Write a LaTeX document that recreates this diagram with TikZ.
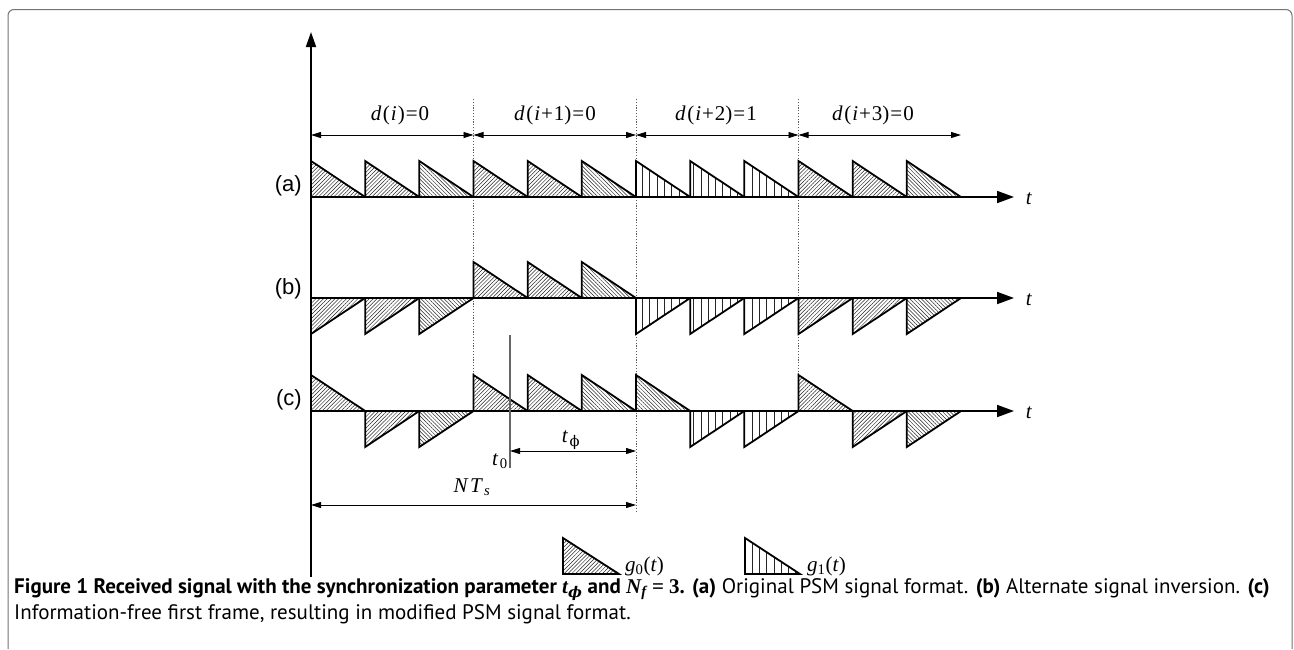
\documentclass[tikz,border=0pt]{standalone}
\usepackage{fontspec}
\setmainfont{Liberation Serif}
\newfontfamily\capfont{PT Sans}
\newfontfamily\rowfont{Liberation Sans}
\newfontfamily\grk{DejaVu Serif}
\usetikzlibrary{arrows.meta,patterns.meta}

% italic symbol in the Times-like face
\newcommand{\vi}[1]{\textit{#1}}

\begin{document}
\begin{tikzpicture}[x=1pt,y=-1pt,
  axis/.style={line width=1.8pt,-{Triangle[length=17pt,width=12pt]}},
  vaxis/.style={line width=1.8pt,-{Triangle[length=15pt,width=10pt]}},
  dim/.style={line width=0.9pt,{Triangle[length=10pt,width=6pt]}-{Triangle[length=10pt,width=6pt]}},
  guide/.style={black!65,line width=0.9pt,dash pattern=on 1.1pt off 1.7pt},
  pulse/.style={line width=1.8pt,line join=miter},
  hatchA/.style={pattern={Lines[angle=45,distance=2.7pt,line width=0.5pt]},pattern color=black!85},
  hatchB/.style={pattern={Lines[angle=-45,distance=2.7pt,line width=0.5pt]},pattern color=black!85},
  hatchG/.style={pattern={Lines[angle=90,distance=7.3pt,line width=0.6pt]},pattern color=black!85},
  lbl/.style={font=\fontsize{21}{25}\selectfont,inner sep=0pt},
  rowlbl/.style={font=\rowfont\fontsize{22}{26}\selectfont,inner sep=0pt,anchor=east},
  capline/.style={font=\capfont\fontsize{21}{25}\selectfont,inner sep=0pt,anchor=base west}]

\useasboundingbox (0,0) rectangle (1294,649);

% panel frame, open at the bottom
\draw[black!55,line width=1pt,rounded corners=6pt] (8,649) -- (8,9.5) -- (1292,9.5) -- (1292,649);

% frame boundaries
\coordinate (g1t) at (473.5,99);  \coordinate (g1b) at (473.5,375);
\coordinate (g2t) at (636,99);    \coordinate (g2b) at (636,512);
\coordinate (g3t) at (798.5,99);  \coordinate (g3b) at (798.5,375);
\draw[guide] (g1t) -- (g1b);
\draw[guide] (g2t) -- (g2b);
\draw[guide] (g3t) -- (g3b);

% frame widths and data bits
\foreach \i in {0,...,4} {\coordinate (m\i) at (311+162.5*\i,135);}
\draw[dim] (m0) -- (m1);
\draw[dim] (m1) -- (m2);
\draw[dim] (m2) -- (m3);
\draw[dim] (m3) -- (m4);
\node[lbl] (d0) at (400,115) {\vi{d}\kern1.5pt(\kern1pt\vi{i}\kern1pt)\kern1pt=\kern1pt0};
\node[lbl] (d1) at (555,115) {\vi{d}\kern1.5pt(\kern1pt\vi{i}\kern1pt+\kern1pt1)\kern1pt=\kern1pt0};
\node[lbl] (d2) at (716,115) {\vi{d}\kern1.5pt(\kern1pt\vi{i}\kern1pt+\kern1pt2)\kern1pt=\kern1pt1};
\node[lbl] (d3) at (873,115) {\vi{d}\kern1.5pt(\kern1pt\vi{i}\kern1pt+\kern1pt3)\kern1pt=\kern1pt0};

% (a) original PSM format
\foreach \k/\hh/\pat in {0/-36/hatchA,1/-36/hatchA,2/-36/hatchB,3/-36/hatchA,4/-36/hatchA,5/-36/hatchB,
                         6/-36/hatchG,7/-36/hatchG,8/-36/hatchG,9/-36/hatchA,10/-36/hatchA,11/-36/hatchB}
  {\draw[pulse,\pat] (311+\k*54.1667,197) -- (311+\k*54.1667,197+\hh) -- (365.1667+\k*54.1667,197) -- cycle;}

% (b) alternate signal inversion
\foreach \k/\hh/\pat in {0/36/hatchA,1/36/hatchA,2/36/hatchB,3/-36/hatchA,4/-36/hatchA,5/-36/hatchB,
                         6/36/hatchG,7/36/hatchG,8/36/hatchG,9/36/hatchA,10/36/hatchA,11/36/hatchB}
  {\draw[pulse,\pat] (311+\k*54.1667,298) -- (311+\k*54.1667,298+\hh) -- (365.1667+\k*54.1667,298) -- cycle;}

% (c) information-free first frame
\foreach \k/\hh/\pat in {0/-36/hatchA,1/36/hatchA,2/36/hatchB,3/-36/hatchA,4/-36/hatchA,5/-36/hatchB,
                         6/-36/hatchB,7/36/hatchG,8/36/hatchG,9/-36/hatchA,10/36/hatchA,11/36/hatchB}
  {\draw[pulse,\pat] (311+\k*54.1667,411) -- (311+\k*54.1667,411+\hh) -- (365.1667+\k*54.1667,411) -- cycle;}

% time axes
\coordinate (oa) at (311,197); \coordinate (ea) at (1014,197);
\coordinate (ob) at (311,298); \coordinate (eb) at (1014,298);
\coordinate (oc) at (311,411); \coordinate (ec) at (1014,411);
\draw[axis] (oa) -- (ea);
\draw[axis] (ob) -- (eb);
\draw[axis] (oc) -- (ec);
\node[lbl] (ta) at (1029,199) {\vi{t}};
\node[lbl] (tb) at (1029,300) {\vi{t}};
\node[lbl] (tc) at (1029,413) {\vi{t}};

\coordinate (vb) at (311,577); \coordinate (vt) at (311,32);
\draw[vaxis] (vb) -- (vt);

\node[rowlbl] (ra) at (302,186) {(a)};
\node[rowlbl] (rb) at (302,289) {(b)};
\node[rowlbl] (rc) at (302,400) {(c)};

% synchronization offset
\coordinate (t0top) at (510,335); \coordinate (t0bot) at (510,468);
\draw[black!60,line width=1.1pt] (t0top) -- (t0bot);
\coordinate (tpa) at (510,451); \coordinate (tpb) at (636,451);
\draw[dim] (tpa) -- (tpb);
\node[lbl] (t0lab) at (500,461) {\vi{t}\kern1.5pt\textsubscript{0}};
\node[lbl] (tplab) at (571,440) {\vi{t}\kern1.5pt\textsubscript{\grk ϕ}};

\coordinate (ns0) at (311,505); \coordinate (ns1) at (636,505);
\draw[dim] (ns0) -- (ns1);
\node[lbl] (nslab) at (472,487) {\vi{N}\kern1.5pt\vi{T}\kern1pt\textsubscript{\vi{s}}};

% pulse shapes
\draw[pulse,hatchA] (563,574) -- (563,538) -- (619,574) -- cycle;
\node[lbl,anchor=west] (g0lab) at (625,566) {\vi{g}\textsubscript{0}(\vi{t})};
\draw[pulse,hatchG] (745,574) -- (745,538) -- (800,574) -- cycle;
\node[lbl,anchor=west] (g1lab) at (807,566) {\vi{g}\textsubscript{1}(\vi{t})};

% caption
\node[capline] (cap1) at (14,593) {{\bfseries Figure 1 Received signal with the synchronization parameter
  {\rmfamily\itshape t}\textsubscript{\grk\bfseries\itshape ϕ} and {\rmfamily\itshape N\textsubscript{f}} {\rmfamily = 3.} (a)}
  Original PSM signal format. {\bfseries (b)} Alternate signal inversion. {\bfseries (c)}};
\node[capline] (cap2) at (14,619) {Information-free first frame, resulting in modified PSM signal format.};

\end{tikzpicture}
\end{document}
